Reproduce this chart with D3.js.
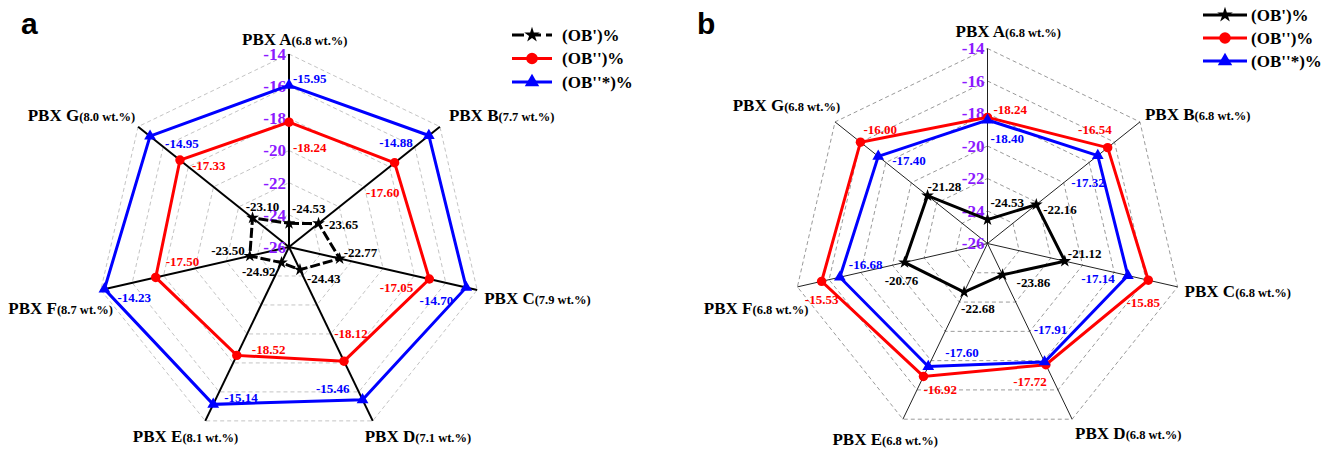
<!DOCTYPE html>
<html><head><meta charset="utf-8">
<script src="https://cdn.jsdelivr.net/npm/d3@7"></script>
<style>body{margin:0;background:#fff}svg{display:block}</style>
</head><body>
<svg id="c" width="1325" height="449"></svg>
<script>
// ---------- data ----------
const axisNames = ["PBX A","PBX B","PBX C","PBX D","PBX E","PBX F","PBX G"];
const wtA = ["(6.8 wt.%)","(7.7 wt.%)","(7.9 wt.%)","(7.1 wt.%)","(8.1 wt.%)","(8.7 wt.%)","(8.0 wt.%)"];
const wtB = ["(6.8 wt.%)","(6.8 wt.%)","(6.8 wt.%)","(6.8 wt.%)","(6.8 wt.%)","(6.8 wt.%)","(6.8 wt.%)"];
const obPrimeA  = [-24.53,-23.65,-22.77,-24.43,-24.92,-23.50,-23.10];
const obDoubleA = [-18.24,-17.60,-17.05,-18.12,-18.52,-17.50,-17.33];
const obStarA   = [-15.95,-14.88,-14.70,-15.46,-15.14,-14.23,-14.95];
const obPrimeB  = [-24.53,-22.16,-21.12,-23.86,-22.68,-20.76,-21.28];
const obDoubleB = [-18.24,-16.54,-15.85,-17.72,-16.92,-15.53,-16.00];
const obStarB   = [-18.40,-17.32,-17.14,-17.91,-17.60,-16.68,-17.40];
const ticks = [-14,-16,-18,-20,-22,-24,-26];
const seriesNames = ["(OB')%","(OB'')%","(OB''*)%"];

// ---------- layout (label offsets: [anchor, dx, dy]) ----------
const offA = {
  star:  [["start",4,-7],["end",-16,7],["end",-13,13],["end",-13,-11],["start",11,-7],["start",13,8],["start",15,7]],
  dbl:   [["start",4,25],["end",5,30],["end",-16,8],["middle",7,-28],["start",15,-6],["start",10,-16],["start",12,5]],
  prime: [["start",3,-15],["start",6,1],["start",4,-6],["start",7,9],["end",-6,9],["end",-5,-6],["middle",10,-11]]
};
const offB = {
  star:  [["start",3,18],["end",7,27],["end",-13,3],["middle",6,-32],["start",17,-14],["start",9,-13],["start",14,4]],
  dbl:   [["start",6,-8],["end",4,-18],["middle",-5,22],["end",1,17],["start",0,13],["middle",0,18],["start",3,-13]],
  prime: [["start",3,-17],["start",7,5],["start",3,-8],["start",14,8],["start",-3,16],["middle",-3,18],["start",0,-9]]
};
const nameOffA = [["start",-47,-9],["start",9,-6],["start",7,14],["start",-8,21],["end",33,21],["end",12,24],["end",-3,-6]];
const nameOffB = [["start",-32,-12],["start",5,-2],["start",7,10],["start",3,20],["end",35,26],["end",11,27],["end",5,-11]];

const svg = d3.select("#c");
const SERIF = "'Liberation Serif','Times New Roman',serif";
const PURPLE = "#8c1aff";

function drawRadar(cfg){
  const g = svg.append("g").attr("transform",`translate(${cfg.cx},${cfg.cy})`);
  const r = d3.scaleLinear().domain([-26,-14]).range([0,cfg.R]);
  const n = axisNames.length;
  const ang = i => i*2*Math.PI/n;
  const pt = (i,v) => [Math.sin(ang(i))*r(v), -Math.cos(ang(i))*r(v)];
  const radial = d3.lineRadial().angle((d,i)=>ang(i)).radius(d=>r(d)).curve(d3.curveLinearClosed);

  // grid
  ticks.filter(t=>t>-26).forEach(t=>{
    g.append("path").attr("d",radial(axisNames.map(()=>t)))
      .attr("fill","none").attr("stroke",cfg.gridColor).attr("stroke-width",1).attr("stroke-dasharray","4,3");
  });
  // axes
  axisNames.forEach((a,i)=>{
    const [x,y]=pt(i,-14);
    g.append("line").attr("x1",0).attr("y1",0).attr("x2",x).attr("y2",y)
      .attr("stroke",cfg.axisColor).attr("stroke-width",cfg.axisWidth);
  });
  // tick labels
  ticks.forEach(t=>{
    g.append("text").attr("x",-3).attr("y",-r(t)).attr("dy","0.35em")
      .attr("text-anchor","end").attr("font-family",SERIF).attr("font-weight","bold")
      .attr("font-size",17).attr("fill",PURPLE).text(t);
  });
  // axis names
  axisNames.forEach((a,i)=>{
    const [x,y]=pt(i,-14); const o=cfg.nameOff[i];
    const t=g.append("text").attr("x",x+o[1]).attr("y",y+o[2]).attr("text-anchor",o[0])
      .attr("font-family",SERIF).attr("font-weight","bold").attr("fill","#000");
    t.append("tspan").attr("font-size",17).text(a);
    t.append("tspan").attr("font-size",12.5).text(cfg.wt[i]);
  });
  // series
  const series = [
    {vals:cfg.prime, color:"#000", sym:d3.symbolStar, size:50, dash:cfg.primeDash, off:cfg.off.prime},
    {vals:cfg.dbl, color:"#ff0000", sym:d3.symbolCircle, size:70, dash:null, off:cfg.off.dbl},
    {vals:cfg.star, color:"#0000ff", sym:d3.symbolTriangle, size:60, dash:null, off:cfg.off.star}
  ];
  series.forEach(s=>{
    g.append("path").attr("d",radial(s.vals)).attr("fill","none").attr("stroke",s.color)
      .attr("stroke-width",3).attr("stroke-dasharray",s.dash);
  });
  series.forEach(s=>{
    s.vals.forEach((v,i)=>{
      const [x,y]=pt(i,v);
      g.append("path").attr("d",d3.symbol().type(s.sym).size(s.size)())
        .attr("transform",`translate(${x},${y})`).attr("fill",s.color);
    });
  });
  series.forEach(s=>{
    s.vals.forEach((v,i)=>{
      const [x,y]=pt(i,v); const o=s.off[i];
      g.append("text").attr("x",x+o[1]).attr("y",y+o[2]).attr("dy","0.35em").attr("text-anchor",o[0])
        .attr("font-family",SERIF).attr("font-weight","bold").attr("font-size",13)
        .attr("fill",s.color).text(v.toFixed(2));
    });
  });
  // legend
  const lg = svg.append("g");
  series.forEach((s,k)=>{
    const y = cfg.legY + k*cfg.legStep;
    lg.append("line").attr("x1",cfg.legX).attr("x2",cfg.legX+cfg.legLen).attr("y1",y).attr("y2",y)
      .attr("stroke",s.color).attr("stroke-width",3).attr("stroke-dasharray", (k===0 && cfg.primeDash) ? "12,5" : null);
    lg.append("path").attr("d",d3.symbol().type(s.sym).size(s.size*1.5)())
      .attr("transform",`translate(${cfg.legX+cfg.legLen/2},${y})`).attr("fill",s.color);
    lg.append("text").attr("x",cfg.legX+cfg.legLen+cfg.legGap).attr("y",y).attr("dy","0.35em")
      .attr("font-family",SERIF).attr("font-weight","bold").attr("font-size",17).attr("fill","#000")
      .text(seriesNames[k]);
  });
  // panel letter
  svg.append("text").attr("x",cfg.letterX).attr("y",34).attr("font-family","'Liberation Sans',Arial,sans-serif")
    .attr("font-weight","bold").attr("font-size",30).text(cfg.letter);
}

drawRadar({cx:289, cy:247, R:193, wt:wtA, prime:obPrimeA, dbl:obDoubleA, star:obStarA,
  off:offA, nameOff:nameOffA, gridColor:"#c4c4c4", axisColor:"#000", axisWidth:2, primeDash:"10,3",
  legX:512, legLen:40, legGap:10, legY:35, legStep:23.5, letter:"a", letterX:21});
drawRadar({cx:987.5, cy:243.5, R:195, wt:wtB, prime:obPrimeB, dbl:obDoubleB, star:obStarB,
  off:offB, nameOff:nameOffB, gridColor:"#9a9a9a", axisColor:"#222", axisWidth:1, primeDash:null,
  legX:1203, legLen:44, legGap:4, legY:15, legStep:23, letter:"b", letterX:697});
</script>
</body></html>
